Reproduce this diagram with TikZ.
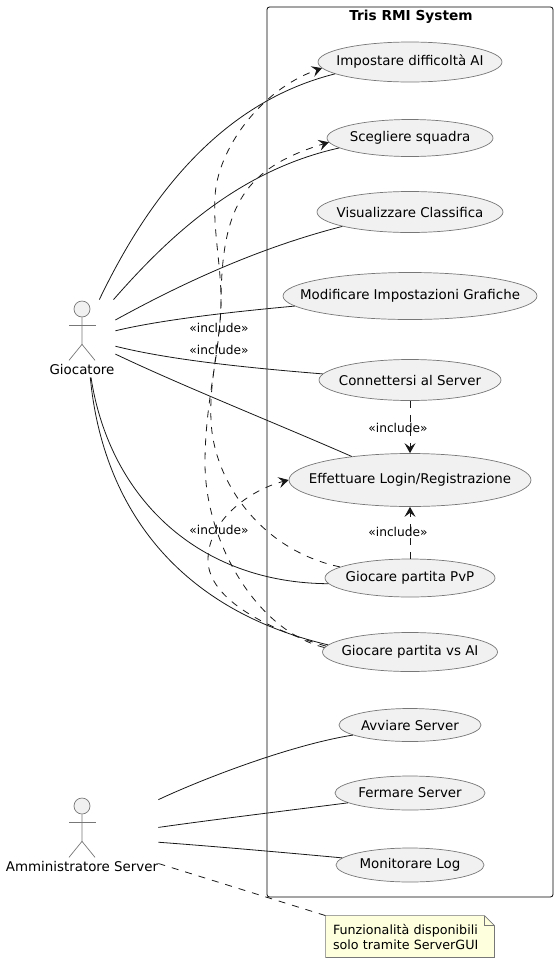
\documentclass[tikz,border=0pt]{standalone}
\usepackage{fontspec}
\setmainfont{DejaVu Sans}
\usetikzlibrary{
    arrows.meta,
    backgrounds,
    shapes,
}
\definecolor{ink}{HTML}{181818}
\definecolor{edge}{HTML}{777777}
\definecolor{ucfill}{HTML}{F1F1F1}
\definecolor{notefill}{HTML}{FEFFDD}
\newcommand{\uctext}[1]{\makebox[0pt]{#1}}

\begin{document}
\begin{tikzpicture}[x=1pt, y=-1pt, line width=.8pt, font=\fontsize{13.4}{16}\selectfont,
    usecase/.style = {draw=edge, line width=.7pt, fill=ucfill, ellipse, inner sep=0pt},
    area/.style = {rectangle, inner sep=0pt},
    head/.style = {draw=edge, line width=.7pt, fill=ucfill, circle, minimum size=16pt, inner sep=0pt},
    stick/.style = {draw=edge, line width=.7pt},
    assoc/.style = {draw=ink},
    dep/.style = {draw=ink, dash pattern=on 7pt off 7pt, -{Stealth[length=10pt, width=11pt, inset=4pt]}},
    incl/.style = {font=\fontsize{12.2}{15}\selectfont}]
    \useasboundingbox (0,0) rectangle (558,962);
    \draw[black, rounded corners=2.5pt] (267,7) rectangle (553,897);
    \node[font=\fontsize{13.7}{16}\selectfont\bfseries] (title) at (411,17) {Tris RMI System};

    \node[usecase, minimum width=184pt, minimum height=40pt] (imp) at (410,62) {\uctext{Impostare difficoltà AI}};
    \node[usecase, minimum width=166pt, minimum height=37pt] (sce) [below of=imp, node distance=76pt] {\uctext{Scegliere squadra}};
    \node[usecase, minimum width=186pt, minimum height=41pt] (vis) [below of=sce, node distance=74pt] {\uctext{Visualizzare Classifica}};
    \node[usecase, minimum width=254pt, minimum height=47pt] (mod) [below of=vis, node distance=84pt] {\uctext{Modificare Impostazioni Grafiche}};
    \node[usecase, minimum width=182pt, minimum height=41pt] (con) [below of=mod, node distance=84pt] {\uctext{Connettersi al Server}};
    \node[usecase, minimum width=242pt, minimum height=53pt] (eff) [below of=con, node distance=100pt] {\uctext{Effettuare Login/Registrazione}};
    \node[usecase, minimum width=170pt, minimum height=38pt] (pvp) [below of=eff, node distance=98pt] {\uctext{Giocare partita PvP}};
    \node[usecase, minimum width=175pt, minimum height=39pt] (vsa) [below of=pvp, node distance=74pt] {\uctext{Giocare partita vs AI}};
    \node[usecase, minimum width=142pt, minimum height=33pt] (avv) [below of=vsa, node distance=73pt] {\uctext{Avviare Server}};
    \node[usecase, minimum width=150pt, minimum height=34pt] (fer) [below of=avv, node distance=68pt] {\uctext{Fermare Server}};
    \node[usecase, minimum width=148pt, minimum height=34pt] (mon) [below of=fer, node distance=72pt] {\uctext{Monitorare Log}};

    \node[area, minimum width=66pt, minimum height=77pt] (gio) at (82,338.5) {};
    \node[head] (gioHead) at (82,309) {};
    \draw[stick] (gioHead.south) -- ++(0,27) -- ++(-13,16);
    \draw[stick] (gioHead.south) ++(0,27) -- ++(13,16);
    \draw[stick] (69,325) -- (96,325);
    \node (gioText) at (82,369) {Giocatore};

    \node[area, minimum width=153pt, minimum height=75pt] (adm) at (81.5,835.5) {};
    \node[head] (admHead) at (82,806) {};
    \draw[stick] (admHead.south) -- ++(0,27) -- ++(-13,16);
    \draw[stick] (admHead.south) ++(0,27) -- ++(13,16);
    \draw[stick] (69,822) -- (96,822);
    \node (admText) at (82,866) {Amministratore Server};

    \node[area, minimum width=168pt, minimum height=41pt, text width=154pt, align=left, font=\fontsize{12.7}{15}\selectfont] (note) at (410,936.5) {Funzionalità disponibili\\solo tramite ServerGUI};
    \begin{scope}[on background layer]
        \draw[stick, fill=notefill] (note.south west) -- (note.north west) -- ([xshift=-10pt]note.north east) -- ([yshift=-10pt]note.north east) -- (note.south east) -- cycle;
        \draw[stick] ([xshift=-10pt]note.north east) -- ([xshift=-10pt, yshift=-10pt]note.north east) -- ([yshift=-10pt]note.north east);
    \end{scope}

    \draw[assoc] (gio.66) .. controls (140,215) and (210,105) .. (imp.189);
    \draw[assoc] (gio.51) .. controls (170,235) and (240,170) .. (sce.188);
    \draw[assoc] (gio.29) .. controls (170,290) and (250,250) .. (vis.192);
    \draw[assoc] (gio.13) .. controls (160,320) and (230,312) .. (mod.185);
    \draw[assoc] (gio.-13) .. controls (170,360) and (250,368) .. (con.176);
    \draw[assoc] (gio.-25) .. controls (180,385) and (280,425) .. (eff.158);
    \draw[assoc] (gio.-77) .. controls (110,500) and (200,583) .. (pvp.184);
    \draw[assoc] (gio.-78) .. controls (103,510) and (180,610) .. (vsa.175);

    \draw[assoc] (adm.25) .. controls (200,780) and (290,745) .. (avv.190);
    \draw[assoc] (adm.6) .. controls (210,820) and (300,809) .. (fer.189);
    \draw[assoc] (adm.-5) .. controls (210,846) and (290,853) .. (mon.174);
    \draw[draw=ink, dash pattern=on 7pt off 7pt] (adm.-20) -- (note.north west);

    \draw[dep] (con) -- (eff);
    \draw[dep] (pvp) -- (eff);
    \draw[dep] (vsa.176) .. controls (270,630) and (208,600) .. (208,560) .. controls (208,520) and (250,490) .. (eff.west);
    \draw[dep] (pvp.171) .. controls (260,550) and (213,480) .. (211,420) .. controls (209,380) and (221,340) .. (221,300) .. controls (222,205) and (245,168) .. (sce.183);
    \draw[dep] (vsa.177) .. controls (255,630) and (205,540) .. (205,463) .. controls (205,400) and (221,350) .. (221,300) .. controls (221,265) and (213,230) .. (215,197) .. controls (217,150) and (260,90) .. (imp.184);

    \node[incl] (inc1) at (219,328) {«include»};
    \node[incl] (inc2) at (219,350) {«include»};
    \node[incl] (inc3) at (219,530) {«include»};
    \node[incl] (inc4) at (398,428) {«include»};
    \node[incl] (inc5) at (398,532) {«include»};
\end{tikzpicture}
\end{document}
